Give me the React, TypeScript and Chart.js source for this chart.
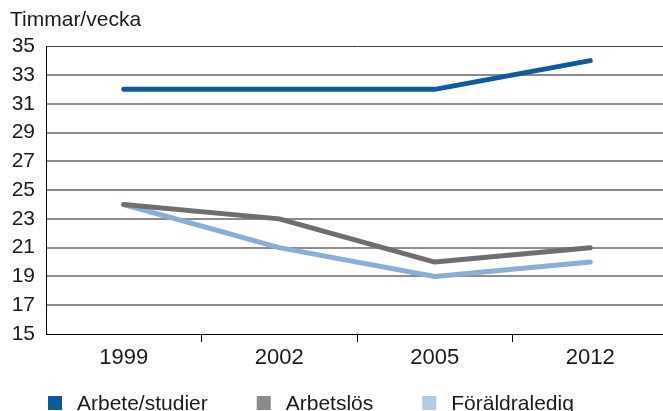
import React, { useEffect, useRef } from "react";
import { Chart, registerables } from "chart.js";

Chart.register(...registerables);

const categories = ["1999", "2002", "2005", "2012"];
const seriesNames = ["Arbete/studier", "Arbetslös", "Föräldraledig"];
const arbeteStudier = [32, 32, 32, 34];
const arbetslos = [24, 23, 20, 21];
const foraldraledig = [24, 21, 19, 20];
const yMin = 15;
const yMax = 35;
const yStep = 2;
const yTitle = "Timmar/vecka";

const lineColors = ["#0b5aa2", "#6e6e6e", "#86aed8"];
const legendColors = ["#0b5aa2", "#8a8a8a", "#b2cce4"];
const FONT = "'Liberation Sans', Arial, sans-serif";

const legendPlugin = {
  id: "customLegend",
  afterDraw(chart: any) {
    const ctx = chart.ctx;
    ctx.save();
    ctx.font = `21px ${FONT}`;
    ctx.textBaseline = "alphabetic";
    ctx.textAlign = "left";
    let x = 48;
    chart.data.datasets.forEach((ds: any) => {
      ctx.fillStyle = ds.backgroundColor;
      ctx.fillRect(x, 396, 14, 14);
      ctx.fillStyle = "#1a1a1a";
      ctx.fillText(ds.label, x + 29, 410);
      x += 29 + ctx.measureText(ds.label).width + 49;
    });
    ctx.restore();
  },
};

export default function App() {
  const canvasRef = useRef<HTMLCanvasElement | null>(null);

  useEffect(() => {
    if (!canvasRef.current) return;
    const series = [arbeteStudier, arbetslos, foraldraledig];
    const chart = new Chart(canvasRef.current, {
      type: "line",
      data: {
        labels: categories,
        datasets: series.map((data, i) => ({
          label: seriesNames[i],
          data,
          borderColor: lineColors[i],
          backgroundColor: legendColors[i],
          borderWidth: 5,
          borderCapStyle: "round",
          borderJoinStyle: "round",
          pointRadius: 0,
          pointHoverRadius: 0,
          tension: 0,
          fill: false,
        })),
      },
      options: {
        responsive: false,
        animation: false,
        devicePixelRatio: 1,
        layout: { padding: { left: 10, right: 2, top: 0, bottom: 0 } },
        plugins: {
          legend: { display: false },
          tooltip: { enabled: false },
          title: {
            display: true,
            text: yTitle,
            align: "start",
            color: "#1a1a1a",
            font: { family: FONT, size: 21, weight: "normal" },
            padding: { top: 8, bottom: 13 },
          },
        },
        scales: {
          x: {
            type: "category",
            offset: true,
            grid: {
              offset: true,
              drawOnChartArea: false,
              drawTicks: true,
              tickLength: 8,
              tickColor: (c: any) =>
                c.index === 0 || c.index >= categories.length ? "rgba(0,0,0,0)" : "#000",
              tickWidth: 1,
            },
            border: { display: true, color: "#000", width: 1 },
            ticks: {
              color: "#1a1a1a",
              font: { family: FONT, size: 22 },
              padding: 3,
              maxRotation: 0,
            },
            afterFit: (s: any) => {
              s.height = 77;
            },
          },
          y: {
            min: yMin,
            max: yMax,
            ticks: {
              stepSize: yStep,
              color: "#1a1a1a",
              font: { family: FONT, size: 21 },
              padding: 11,
            },
            grid: {
              drawTicks: false,
              color: (c: any) =>
                c.tick && c.tick.value === yMin
                  ? "rgba(0,0,0,0)"
                  : c.tick && c.tick.value === yMax
                  ? "#444"
                  : "#8c8c8c",
              lineWidth: (c: any) => (c.tick && c.tick.value === yMax ? 1 : 2),
            },
            border: { display: true, color: "#000", width: 1 },
            afterFit: (s: any) => {
              s.width = 36;
            },
          },
        },
      } as any,
      plugins: [legendPlugin],
    });
    return () => chart.destroy();
  }, []);

  return (
    <div
      style={{
        position: "absolute",
        left: 0,
        top: 0,
        width: 663,
        height: 411,
        overflow: "hidden",
        background: "#fff",
      }}
    >
      <canvas ref={canvasRef} width={670} height={411} style={{ width: 670, height: 411, display: "block" }} />
    </div>
  );
}
